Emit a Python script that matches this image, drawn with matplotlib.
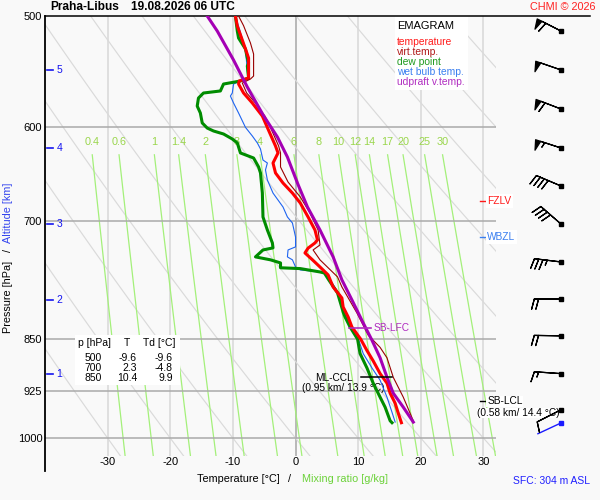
import numpy as np
import matplotlib
matplotlib.use('Agg')
import matplotlib.pyplot as plt
from matplotlib.patches import Rectangle
from matplotlib.ticker import NullLocator

plt.rcParams['font.family'] = ['Liberation Sans', 'DejaVu Sans']

# ---------------- data ----------------
temp_p = [500, 508.3, 527.8, 535.7, 553.6, 554.5, 556.3, 559.1, 567.4, 576.8, 589.3, 601.9,
          619.0, 626.1, 636.5, 647.0, 657.8, 668.7, 679.7, 695.5, 710.5, 722.2, 725.8, 732.0,
          737.8, 746.2, 755.0, 764.9, 780.2, 794.5, 806.3, 819.6, 833.2, 850.0, 866.1, 881.0,
          899.5, 913.9, 928.9, 944.3, 960.1, 975.0]
temp_t = [-9.6, -9.3, -8.0, -7.5, -7.5, -8.0, -9.0, -9.1, -8.3, -6.9, -5.3, -4.4,
          -3.2, -2.8, -3.6, -3.2, -2.0, -0.5, 0.75, 2.0, 3.1, 3.5, 3.1, 2.0,
          1.5, 2.7, 3.9, 5.2, 6.0, 7.4, 7.6, 8.4, 9.0, 10.4, 11.4, 12.4,
          13.5, 14.6, 15.1, 15.9, 16.4, 16.9]

tv_p = [500, 508.0, 522.7, 532.2, 551.8, 554.5, 558.2, 567.4, 576.8, 589.3, 601.9, 619.0,
        626.1, 640.7, 656.7, 673.0, 691.0, 710.5, 728.2, 734.2, 746.2, 767.4, 780.2, 814.3,
        844.4, 861.6, 876.5, 905.0, 935.0, 972.0]
tv_t = [-9.1, -8.3, -7.2, -6.7, -6.7, -7.2, -8.5, -7.8, -6.4, -4.9, -3.9, -2.7,
        -2.4, -2.4, -1.2, 0.75, 2.3, 3.6, 3.9, 2.8, 3.9, 6.7, 7.4, 9.8,
        11.6, 13.5, 14.6, 15.6, 17.2, 18.8]

td_p = [500, 512.5, 518.4, 527.8, 535.7, 540.1, 542.8, 553.6, 556.3, 559.1, 565.5, 567.4,
        572.1, 579.7, 586.3, 596.0, 601.0, 603.9, 606.9, 611.9, 615.9, 626.1, 631.3, 640.7,
        647.0, 668.7, 695.5, 710.5, 725.8, 731.7, 734.2, 742.6, 746.2, 750.0, 756.0, 757.0,
        761.2, 762.5, 771.2, 787.9, 812.9, 819.6, 833.2, 850.0, 870.4, 891.2, 913.9, 935.0,
        950.5, 971.9, 975.0]
td_t = [-9.6, -9.3, -9.1, -8.0, -7.7, -7.5, -7.7, -7.5, -8.8, -11.5, -12.0, -14.7,
        -15.5, -15.7, -15.2, -14.9, -14.1, -13.1, -11.5, -10.1, -9.3, -8.8, -6.7, -5.9,
        -5.6, -5.3, -5.2, -4.5, -3.7, -3.6, -5.2, -6.4, -4.0, -2.4, -2.4, 0.75,
        3.9, 4.6, 5.3, 6.7, 7.6, 7.9, 8.7, 9.9, 10.3, 11.4, 12.4, 13.5,
        14.3, 15.1, 15.4]

tw_p = [500, 527.8, 553.6, 556.3, 559.1, 567.4, 570.2, 576.8, 586.3, 600.3, 608.9, 615.9,
        622.0, 633.4, 636.5, 643.8, 654.5, 668.7, 684.2, 695.5, 702.4, 718.8, 730.5, 734.2,
        742.6, 746.2, 755.0, 758.7, 761.2, 762.5, 771.2, 790.5, 814.3, 833.2, 851.5, 870.4,
        891.2, 909.3, 935.0, 958.5, 974.0]
tw_t = [-9.6, -8.0, -7.6, -8.8, -9.9, -10.1, -10.4, -9.9, -9.1, -8.0, -6.9, -6.1,
        -5.6, -5.2, -4.5, -4.8, -4.5, -3.6, -2.0, -1.3, -0.5, 0.0, 0.0, -1.2,
        -1.3, -0.5, 0.0, 0.75, 3.9, 4.9, 5.5, 7.1, 7.9, 8.9, 10.1, 10.8,
        12.2, 13.5, 14.6, 15.4, 15.9]

par_p = [500, 512.5, 537.5, 561.9, 588.0, 609.9, 630.3, 657.8, 684.2, 710.5, 742.6, 771.2,
         797.0, 827.7, 851.5, 876.5, 905.0, 928.9, 950.5, 974.0]
par_t = [-14.1, -12.5, -9.9, -7.7, -5.2, -2.9, -1.3, 0.3, 1.9, 3.9, 6.0, 7.4,
         9.0, 10.8, 12.2, 13.5, 14.6, 15.6, 17.2, 18.8]

table_head = ['p [hPa]', 'T', 'Td [°C]']
table_p = ['500', '700', '850']
table_t = ['-9.6', '2.3', '10.4']
table_td = ['-9.6', '-4.8', '9.9']

mix_w = [0.4, 0.6, 1, 1.4, 2, 3, 4, 6, 8, 10, 12, 14, 17, 20, 25, 30]
mix_lab = ['0.4', '0.6', '1', '1.4', '2', '3', '4', '6', '8', '10', '12', '14', '17', '20', '25', '30']
theta_c = list(range(-30, 101, 10))
p_ticks = [500, 600, 700, 850, 925, 1000]
p_grid = [600, 700, 850, 925, 1000]
t_ticks = [-30, -20, -10, 0, 10, 20, 30]
alt_km = [1, 2, 3, 4, 5]
alt_p = [899.5, 797.0, 703.6, 621.0, 546.3]

wind_p = [512.5, 546.3, 582.5, 621.0, 661.0, 703.6, 748.8, 795.8, 845.4, 899.5, 954.5]
wind_dir = [297, 289, 291, 288, 293, 311, 277, 270, 271, 274, 243]
wind_kt = [60, 50, 60, 55, 40, 40, 35, 20, 20, 15, 10]
sfc_p = 975.4
sfc_dir = 245

fzlv_p = 677.4
wbzl_p = 718.8
lfc_p = 834.5
ccl_p = 905.0
lcl_p = 941.6

legend_items = [('temperature', '#ff1a1a'), ('virt.temp.', '#b01818'), ('dew point', '#1f9a1f'),
                ('wet bulb temp.', '#3a7ff0'), ('udpraft v.temp.', '#b02cc0')]

# ---------------- layout ----------------
W, H = 600, 500
BG = '#f9f9f9'
fig = plt.figure(figsize=(6, 5), dpi=100, facecolor=BG)

XL, XR, YT = 45, 496, 16
TMIN, TMAX = -40, 32
PTOP, PBOT = 500, 1030
K = 609.0
ax_h = K * np.log(PBOT / PTOP)
rect = [XL / W, 1 - (YT + ax_h) / H, (XR - XL) / W, ax_h / H]
ax = fig.add_axes(rect)
ax.set_facecolor(BG)
ax.set_yscale('log')
ax.set_ylim(PBOT, PTOP)
ax.set_xlim(TMIN, TMAX)
for s in ax.spines.values():
    s.set_visible(False)
ax.set_yticks(p_ticks)
ax.set_yticklabels([str(p) for p in p_ticks])
ax.yaxis.set_minor_locator(NullLocator())
ax.set_xticks(t_ticks)
ax.set_xticklabels([str(t) for t in t_ticks])
ax.tick_params(axis='both', length=0, labelsize=8)
ax.tick_params(axis='x', pad=0.5)
ax.tick_params(axis='y', pad=2)

FT = fig.transFigure


def fx(x):
    return x / W


def fy(y):
    return 1 - y / H


# grid
for t in t_ticks:
    ax.plot([t, t], [PTOP, PBOT], color='#a6a6a6' if t == 0 else '#d8d8d8', lw=1.1, zorder=1)
for p in p_grid:
    ax.plot([TMIN, TMAX], [p, p], color='#aaaaaa', lw=1.1, zorder=1.6)
# top line and left axis
ax.plot([0, (590 - XL) / (XR - XL)], [PTOP, PTOP], transform=ax.get_yaxis_transform(),
        color='black', lw=1.1, clip_on=False, zorder=3)
ax.plot([TMIN, TMIN], [PTOP, 1055], color='black', lw=1.3, clip_on=False, zorder=3)

# dry adiabats
pp = np.geomspace(PTOP, PBOT, 120)
for th in theta_c:
    ax.plot((th + 273.15) * (pp / 1000.0) ** 0.286 - 273.15, pp, color='#dadada', lw=0.85, zorder=1.2)

# mixing ratio lines
pm = np.geomspace(628, PBOT, 80)
for w, lab in zip(mix_w, mix_lab):
    e = w * pm / (622.0 + w)
    a = np.log(e / 6.112)
    td = 243.5 * a / (17.67 - a)
    ax.plot(td, pm, color='#a4f07a', lw=0.9, zorder=1.4)
    ax.text(td[0], 615, lab, color='#9ad64c', fontsize=7.8, ha='center', va='center', zorder=1.5)

# altitude axis
for h, p in zip(alt_km, alt_p):
    ax.plot([TMIN + 0.3, TMIN + 1.2], [p, p], color='#1414f0', lw=1.2, clip_on=False, zorder=3)
    ax.text(TMIN + 1.8, p, str(h), color='#1414f0', fontsize=7.5, ha='left', va='center', zorder=3)

# legend box
ax.add_patch(Rectangle((fx(395), fy(90)), fx(73), 74 / H, transform=FT, fc='white', ec='none', zorder=2))
ax.text(fx(397), fy(26), 'EMAGRAM', transform=FT, fontsize=8, ha='left', va='center', zorder=3)
for i, (lab, c) in enumerate(legend_items):
    ax.text(fx(397), fy(42 + 10 * i), lab, transform=FT, fontsize=7.4, color=c, ha='left', va='center', zorder=3)

# table box
ax.add_patch(Rectangle((fx(75), fy(385)), fx(105), 50 / H, transform=FT, fc='white', ec='none', zorder=2))
ax.text(fx(78), fy(343), table_head[0], transform=FT, fontsize=7.5, ha='left', va='center', zorder=3)
ax.text(fx(127), fy(343), table_head[1], transform=FT, fontsize=7.5, ha='center', va='center', zorder=3)
ax.text(fx(143), fy(343), table_head[2], transform=FT, fontsize=7.5, ha='left', va='center', zorder=3)
for i in range(len(table_p)):
    yy = fy(358 + 10 * i)
    ax.text(fx(102), yy, table_p[i], transform=FT, fontsize=7.5, ha='right', va='center', zorder=3)
    ax.text(fx(137), yy, table_t[i], transform=FT, fontsize=7.5, ha='right', va='center', zorder=3)
    ax.text(fx(173), yy, table_td[i], transform=FT, fontsize=7.5, ha='right', va='center', zorder=3)

# ML-CCL text (under profiles)
ax.text(fx(353), fy(378), 'ML-CCL', transform=FT, fontsize=7.3, ha='right', va='center', zorder=3)
ax.text(fx(302), fy(388), '(0.95 km/ 13.9 °C)', transform=FT, fontsize=7.3, ha='left', va='center', zorder=3)

# profiles
ax.plot(tw_t, tw_p, color='#1e64f0', lw=0.8, zorder=5)
ax.plot(td_t, td_p, color='#008c00', lw=2.2, zorder=6)
ax.plot(temp_t, temp_p, color='#ff0000', lw=2.2, zorder=7)
ax.plot(tv_t, tv_p, color='#990000', lw=0.8, zorder=7.5)
ax.plot(par_t, par_p, color='#a400b4', lw=2.2, zorder=8)

# level markers
ax.plot([8.6, 12.0], [lfc_p, lfc_p], color='#b02cc0', lw=1.2, zorder=9)
ax.text(12.4, lfc_p, 'SB-LFC', color='#b02cc0', fontsize=7.3, ha='left', va='center', zorder=9)
ax.plot([10.5, 15.4], [ccl_p, ccl_p], color='black', lw=1.1, zorder=9)
ax.plot([29.5, 30.4], [lcl_p, lcl_p], color='black', lw=1.0, zorder=9)
ax.text(30.6, lcl_p, 'SB-LCL', fontsize=7.3, ha='left', va='center', zorder=9,
        bbox=dict(fc='white', ec='none', pad=0.6))
ax.text(fx(477), fy(413), '(0.58 km/ 14.4 °C)', transform=FT, fontsize=7.3, ha='left', va='center',
        zorder=9, bbox=dict(fc='white', ec='none', pad=0.3))
ax.plot([29.5, 30.4], [fzlv_p, fzlv_p], color='#ff1a1a', lw=1.0, clip_on=False, zorder=9)
ax.text(30.6, fzlv_p, 'FZLV', color='#ff1a1a', fontsize=7.3, ha='left', va='center', zorder=9,
        bbox=dict(fc='white', ec='none', pad=1.2))
ax.plot([29.5, 30.4], [wbzl_p, wbzl_p], color='#3a7ff0', lw=1.0, clip_on=False, zorder=9)
ax.text(30.6, wbzl_p, 'WBZL', color='#3a7ff0', fontsize=7.3, ha='left', va='center', zorder=9,
        bbox=dict(fc='white', ec='none', pad=1.2))

# wind barbs on a strip to the right
ax2 = fig.add_axes([XR / W, rect[1], (W - XR) / W, rect[3]])
ax2.set_yscale('log')
ax2.set_ylim(PBOT, PTOP)
ax2.set_xlim(0, W - XR)
ax2.axis('off')
wd = np.radians(wind_dir)
u = -np.array(wind_kt) * np.sin(wd)
v = -np.array(wind_kt) * np.cos(wd)
bx = np.full(len(wind_p), 65.0)
ax2.barbs(bx, wind_p, u, v, length=6.2, linewidth=0.9, color='black', zorder=5, flip_barb=True,
          sizes=dict(spacing=0.16, height=0.38, width=0.2))
ax2.plot(bx, wind_p, 's', ms=2.6, color='black', zorder=6)
sd = np.radians(sfc_dir)
ax2.annotate('', xy=(65, sfc_p), xytext=(18.5 * np.sin(sd), 18.5 * np.cos(sd)), textcoords='offset points',
             arrowprops=dict(arrowstyle='-', color='#1a1aff', lw=1.0, shrinkA=0, shrinkB=0))
ax2.plot([65], [sfc_p], 's', ms=2.6, color='#1a1aff')

# titles and axis labels
fig.text(fx(50), fy(7), 'Praha-Libus', fontsize=8.6, fontweight='bold', ha='left', va='center')
fig.text(fx(131), fy(7), '19.08.2026 06 UTC', fontsize=8.6, fontweight='bold', ha='left', va='center')
fig.text(fx(596), fy(7), 'CHMI © 2026', fontsize=7.8, color='#ff2020', ha='right', va='center')
fig.text(fx(197), fy(479), 'Temperature [°C]', fontsize=7.8, ha='left', va='center')
fig.text(fx(289), fy(479), '/', fontsize=7.8, ha='center', va='center')
fig.text(fx(302), fy(479), 'Mixing ratio [g/kg]', fontsize=7.8, color='#6cd23a', ha='left', va='center')
fig.text(fx(8), fy(297), 'Pressure [hPa]', fontsize=7.8, rotation=90, ha='center', va='center')
fig.text(fx(8), fy(251), '/', fontsize=7.8, rotation=90, ha='center', va='center')
fig.text(fx(8), fy(213), 'Altitude [km]', fontsize=7.8, rotation=90, color='#3344ee', ha='center', va='center')
fig.text(fx(590), fy(481), 'SFC: 304 m ASL', fontsize=7.5, color='#2020ff', ha='right', va='center')

fig.savefig('out.png', dpi=100, facecolor=BG)
